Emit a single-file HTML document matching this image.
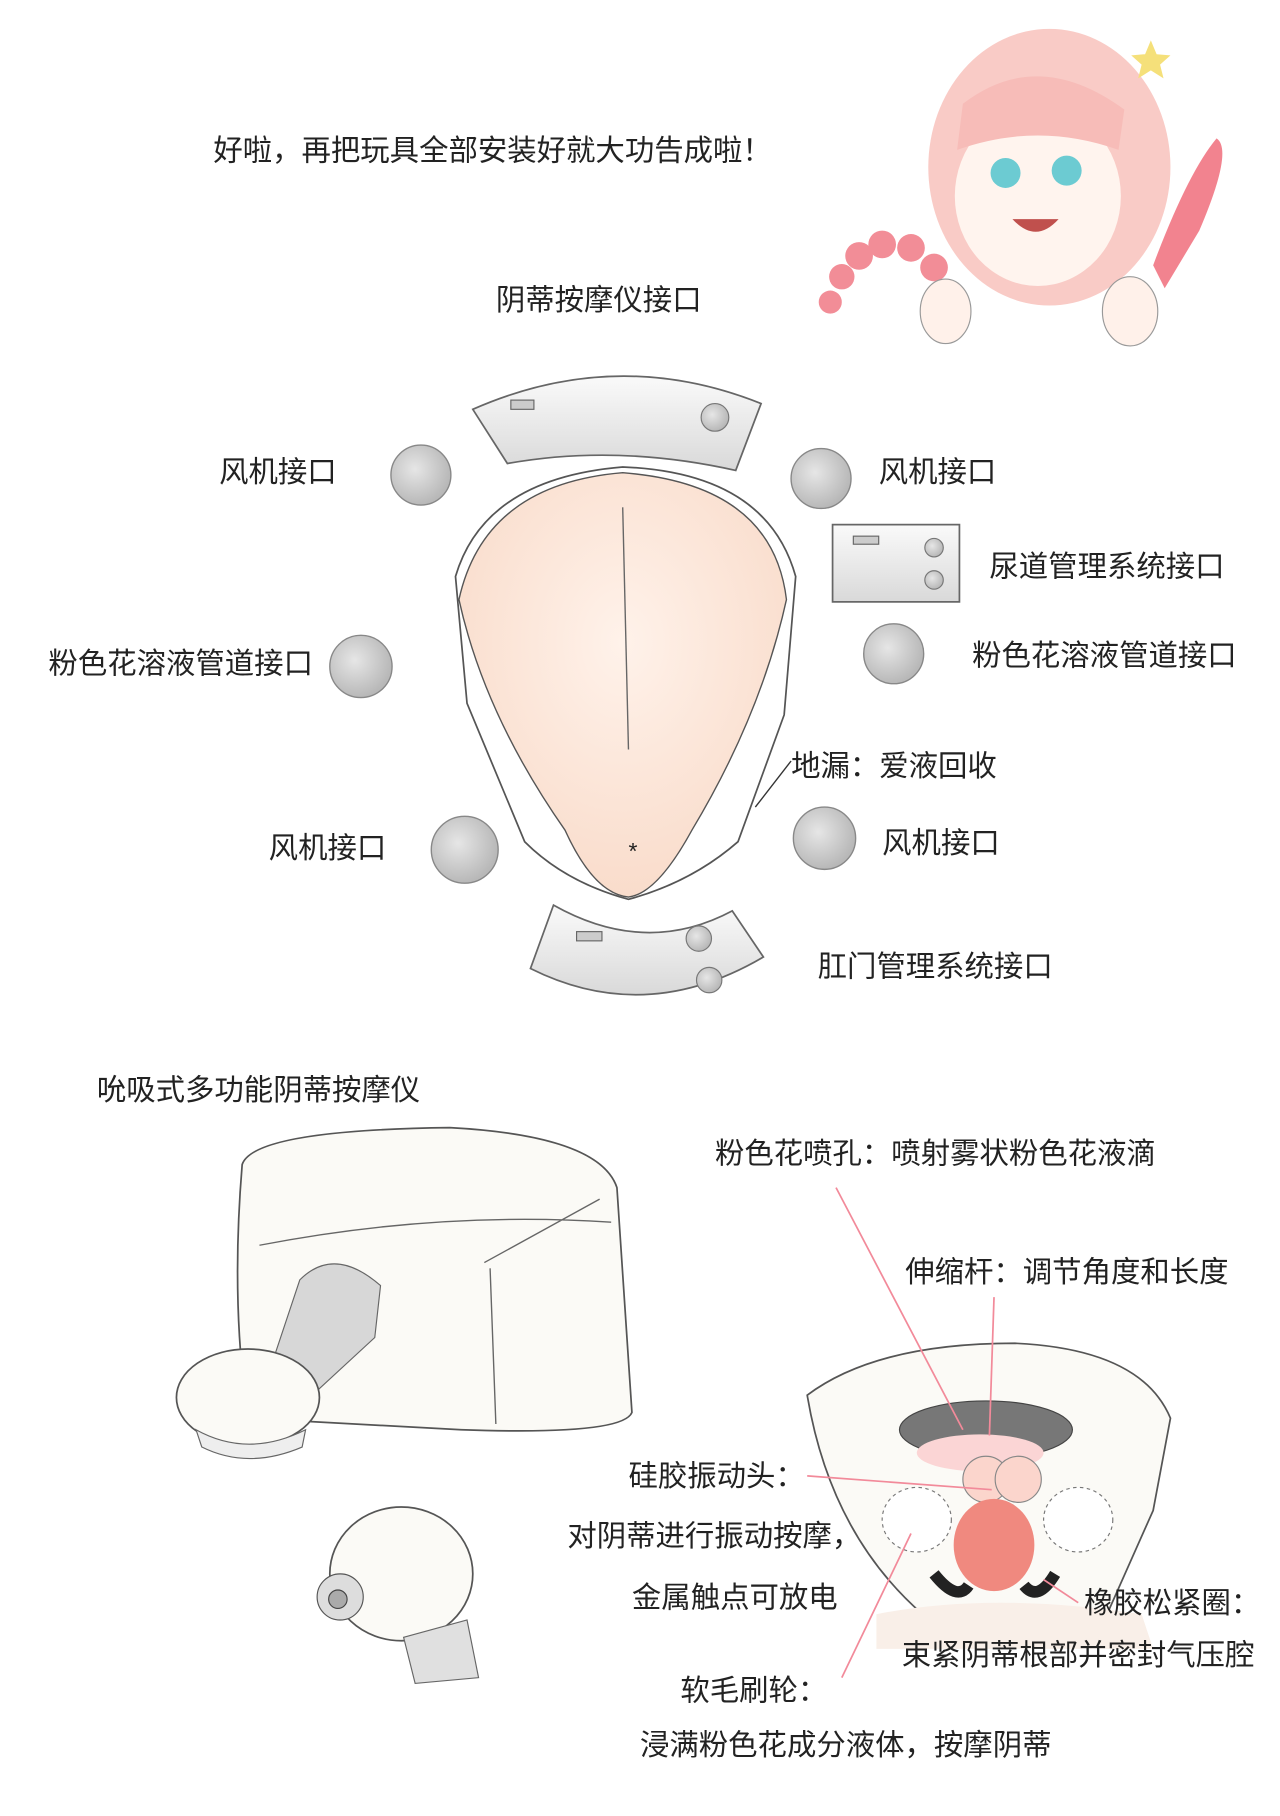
<!DOCTYPE html>
<html><head><meta charset="utf-8">
<style>
html,body{margin:0;padding:0;background:#fff;}
svg{display:block;}
text{font-family:"Liberation Sans","Noto Sans CJK SC",sans-serif;font-size:25.5px;fill:#222;}
</style></head>
<body>
<svg width="1280" height="1816" viewBox="0 0 1110 1575" preserveAspectRatio="none" xmlns="http://www.w3.org/2000/svg">
<defs>
<radialGradient id="g" cx="40%" cy="40%" r="60%"><stop offset="0" stop-color="#e6e6e6"/><stop offset="1" stop-color="#b8b8b8"/></radialGradient>
<radialGradient id="pk" cx="50%" cy="40%" r="60%"><stop offset="0" stop-color="#fff2ea"/><stop offset="1" stop-color="#f9dccb"/></radialGradient>
<linearGradient id="pan" x1="0" y1="0" x2="0" y2="1"><stop offset="0" stop-color="#fafafa"/><stop offset="1" stop-color="#d9d9d9"/></linearGradient>
</defs>

<!-- girl -->
<ellipse cx="910" cy="145" rx="105" ry="120" fill="#f9cbc6"/>
<ellipse cx="900" cy="170" rx="72" ry="78" fill="#fff4ee"/>
<path d="M835 90 Q900 40 975 95 L970 130 Q900 105 830 130 Z" fill="#f7bcb8"/>
<circle cx="872" cy="150" r="13" fill="#6ccbd2"/><circle cx="925" cy="148" r="13" fill="#6ccbd2"/>
<path d="M878 190 Q898 212 918 190 Z" fill="#c0504d"/>
<polygon points="998,35 1003,47 1015,48 1006,56 1009,68 998,61 987,68 990,56 981,48 993,47" fill="#f5e07a"/>
<path d="M1000 230 Q1030 150 1055 120 Q1070 130 1040 200 L1010 250 Z" fill="#f2838f"/>
<g fill="#f28d97"><circle cx="720" cy="262" r="10"/><circle cx="730" cy="240" r="11"/><circle cx="745" cy="222" r="12"/><circle cx="765" cy="212" r="12"/><circle cx="790" cy="215" r="12"/><circle cx="810" cy="232" r="12"/></g>
<ellipse cx="820" cy="270" rx="22" ry="28" fill="#fff1ea" stroke="#999"/>
<ellipse cx="980" cy="270" rx="24" ry="30" fill="#fff1ea" stroke="#999"/>

<text x="185" y="139">好啦，再把玩具全部安装好就大功告成啦！</text>
<text x="430" y="269">阴蒂按摩仪接口</text>

<!-- top panel -->
<path d="M410 355 Q535 300 660 350 L638 408 Q535 385 440 402 Z" fill="url(#pan)" stroke="#666" stroke-width="1.5"/>
<rect x="443" y="347" width="20" height="8" fill="#ccc" stroke="#666"/>
<circle cx="620" cy="362" r="12" fill="url(#g)" stroke="#777"/>

<!-- circles -->
<g stroke="#888" stroke-width="1.2" fill="url(#g)">
<circle cx="365" cy="412" r="26"/><circle cx="712" cy="415" r="26"/>
<circle cx="313" cy="578" r="27"/><circle cx="775" cy="567" r="26"/>
<circle cx="403" cy="737" r="29"/><circle cx="715" cy="727" r="27"/>
</g>
<text x="190" y="418">风机接口</text>
<text x="762" y="418">风机接口</text>
<text x="858" y="500">尿道管理系统接口</text>
<text x="42" y="584">粉色花溶液管道接口</text>
<text x="843" y="577">粉色花溶液管道接口</text>
<text x="686" y="673">地漏：爱液回收</text>
<text x="233" y="744">风机接口</text>
<text x="765" y="740">风机接口</text>
<text x="709" y="847">肛门管理系统接口</text>

<!-- rect box -->
<rect x="722" y="455" width="110" height="67" fill="url(#pan)" stroke="#666" stroke-width="1.5"/>
<rect x="740" y="465" width="22" height="7" fill="#ccc" stroke="#666"/>
<circle cx="810" cy="475" r="8" fill="url(#g)" stroke="#777"/><circle cx="810" cy="503" r="8" fill="url(#g)" stroke="#777"/>

<!-- central body -->
<path d="M395 500 Q420 415 540 405 Q665 410 690 500 L680 620 L640 730 Q600 765 545 780 Q490 765 455 730 L405 610 Z" fill="#fff" stroke="#555" stroke-width="1.5"/>
<path d="M398 520 Q420 420 540 410 Q670 420 682 520 Q660 620 600 720 Q570 775 545 778 Q515 775 490 720 Q420 620 398 520 Z" fill="url(#pk)" stroke="#555" stroke-width="1.2"/>
<path d="M540 440 L545 650" stroke="#666" stroke-width="1.2" fill="none"/>
<text x="545" y="745" style="font-size:20px">*</text>
<path d="M655 700 L686 660" stroke="#333" stroke-width="1.2"/>

<!-- bottom panel -->
<path d="M480 785 Q560 830 635 790 L662 830 Q560 890 460 840 Z" fill="url(#pan)" stroke="#666" stroke-width="1.5"/>
<rect x="500" y="808" width="22" height="8" fill="#ccc" stroke="#666"/>
<circle cx="606" cy="814" r="11" fill="url(#g)" stroke="#777"/><circle cx="615" cy="850" r="11" fill="url(#g)" stroke="#777"/>

<text x="84" y="954">吮吸式多功能阴蒂按摩仪</text>

<!-- left device -->
<path d="M210 1010 Q220 980 390 978 Q520 985 535 1030 L548 1225 Q540 1245 400 1240 L215 1230 Q200 1130 210 1010 Z" fill="#fbfaf6" stroke="#555" stroke-width="1.5"/>
<path d="M225 1080 Q380 1050 530 1060 M420 1095 L520 1040 M425 1100 L430 1235" stroke="#666" fill="none" stroke-width="1.2"/>
<path d="M260 1110 Q290 1080 330 1115 L325 1160 L260 1220 L230 1200 Z" fill="#d7d7d7" stroke="#666"/>
<ellipse cx="215" cy="1212" rx="62" ry="42" fill="#fbfaf6" stroke="#555" stroke-width="1.5"/>
<path d="M170 1240 Q215 1265 265 1240 L262 1255 Q215 1275 175 1255 Z" fill="#eee" stroke="#666"/>
<ellipse cx="348" cy="1365" rx="62" ry="58" fill="#fbfaf6" stroke="#555" stroke-width="1.5"/>
<circle cx="295" cy="1385" r="20" fill="#ddd" stroke="#555"/><circle cx="293" cy="1387" r="8" fill="#aaa" stroke="#444"/>
<path d="M350 1420 L405 1405 L415 1455 L360 1460 Z" fill="#e0e0e0" stroke="#666"/>

<!-- right device -->
<path d="M700 1210 Q760 1165 880 1165 Q990 1170 1015 1230 L1000 1310 L960 1400 L800 1400 Q720 1330 700 1210 Z" fill="#fbfaf6" stroke="#555" stroke-width="1.5"/>
<ellipse cx="855" cy="1240" rx="75" ry="25" fill="#777" stroke="#444"/>
<ellipse cx="850" cy="1260" rx="55" ry="16" fill="#fbd5d5"/>
<circle cx="855" cy="1283" r="20" fill="#fbd5cc" stroke="#888"/><circle cx="883" cy="1283" r="20" fill="#fbd5cc" stroke="#888"/>
<ellipse cx="795" cy="1318" rx="30" ry="28" fill="#fff" stroke="#777" stroke-dasharray="3 3"/>
<ellipse cx="935" cy="1318" rx="30" ry="28" fill="#fff" stroke="#777" stroke-dasharray="3 3"/>
<ellipse cx="862" cy="1340" rx="35" ry="40" fill="#f0897f"/>
<path d="M810 1365 Q830 1390 840 1375" stroke="#222" stroke-width="10" fill="none"/>
<path d="M915 1365 Q900 1390 888 1375" stroke="#222" stroke-width="10" fill="none"/>
<path d="M760 1400 Q860 1380 990 1400 L1000 1430 L760 1430 Z" fill="#f9efe8"/>

<g stroke="#f28a9a" stroke-width="1.5" fill="none">
<path d="M725 1030 L835 1240"/>
<path d="M862 1125 L858 1245"/>
<path d="M700 1280 L860 1292"/>
<path d="M790 1330 L730 1455"/>
<path d="M935 1390 L905 1370"/>
</g>

<text x="620" y="1009">粉色花喷孔：喷射雾状粉色花液滴</text>
<text x="785" y="1112">伸缩杆：调节角度和长度</text>
<text x="545" y="1289">硅胶振动头：</text>
<text x="492" y="1341">对阴蒂进行振动按摩，</text>
<text x="548" y="1394">金属触点可放电</text>
<text x="940" y="1399">橡胶松紧圈：</text>
<text x="782" y="1444">束紧阴蒂根部并密封气压腔</text>
<text x="590" y="1475">软毛刷轮：</text>
<text x="555" y="1522">浸满粉色花成分液体，按摩阴蒂</text>
</svg>
</body></html>
